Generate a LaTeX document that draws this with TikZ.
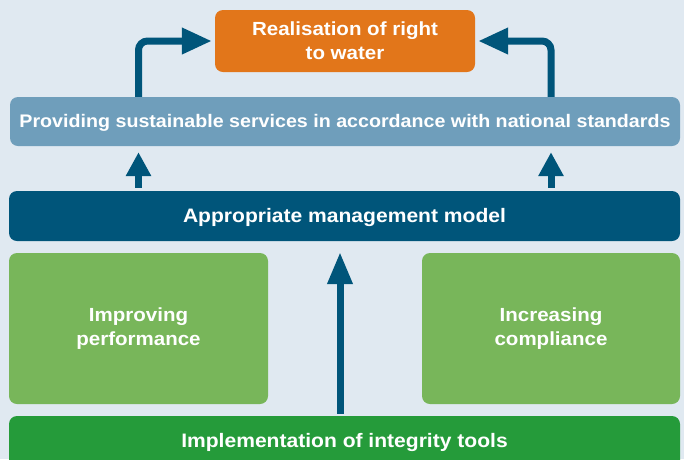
\documentclass[tikz,border=0pt]{standalone}
\usepackage{fontspec}
\setmainfont[FakeStretch=1.08]{Liberation Sans}
\usetikzlibrary{arrows.meta}
\definecolor{bgblue}{HTML}{E0E9F1}
\definecolor{goalorange}{HTML}{E2761A}
\definecolor{servblue}{HTML}{6F9EBB}
\definecolor{modelblue}{HTML}{00557A}
\definecolor{leafgreen}{HTML}{78B65A}
\definecolor{toolgreen}{HTML}{259B3A}
\begin{document}
\begin{tikzpicture}[x=1pt,y=-1pt,
  box/.style={rounded corners=8pt,inner sep=0pt,align=center,text=white,
    font=\bfseries\fontsize{19}{24}\selectfont},
  oneline/.style={text height=14pt,text depth=2pt},
  flow/.style={modelblue,line width=7pt,-{Triangle[length=30pt,width=25pt]}}]
  % page and background
  \useasboundingbox (0,0) rectangle (684,459);
  \clip (0,0) rectangle (684,459);
  \fill[bgblue] (0,0) rectangle (684,459);
  % boxes, top to bottom
  \node[box,fill=goalorange,minimum width=260pt,minimum height=62pt] (goal) at (345,41)
    {Realisation of right\\to water};
  \node[box,oneline,fill=servblue,minimum width=670pt,minimum height=49pt,
    font=\bfseries\fontsize{18.2}{24}\selectfont] (services) at (345,121.5)
    {Providing sustainable services in accordance with national standards};
  \node[box,oneline,fill=modelblue,minimum width=671pt,minimum height=50pt,
    font=\bfseries\fontsize{19.5}{24}\selectfont] (model) at (344.5,216)
    {Appropriate management model};
  \node[box,fill=leafgreen,minimum width=259pt,minimum height=151pt] (improve) at (138.5,328.5)
    {Improving\\performance};
  \node[box,fill=leafgreen,minimum width=258pt,minimum height=151pt] (comply) at (551,328.5)
    {Increasing\\compliance};
  \node[box,fill=toolgreen,minimum width=671pt,minimum height=58pt] (tools) at (344.5,445) {};
  \node[oneline,inner sep=0pt,text=white,font=\bfseries\fontsize{19.5}{24}\selectfont]
    (toolstext) at (344.5,441) {Implementation of integrity tools};
  % arrows into the goal
  \draw[flow,rounded corners=9pt,shorten >=3pt] (services.north -| improve.center) |- (goal.west);
  \draw[flow,rounded corners=9pt,shorten >=3pt] (services.north -| comply.center) |- (goal.east);
  % short arrows from model to services
  \draw[flow,-{Triangle[length=24pt,width=24pt]},shorten <=3pt,shorten >=6pt]
    (model.north -| improve.center) -- (services.south -| improve.center);
  \draw[flow,-{Triangle[length=24pt,width=24pt]},shorten <=3pt,shorten >=6pt]
    (model.north -| comply.center) -- (services.south -| comply.center);
  % long arrow from tools up to the model
  \draw[flow,-{Triangle[length=32pt,width=24pt]},shorten <=2pt,shorten >=11pt]
    (tools.north -| 340,0) -- (model.south -| 340,0);
\end{tikzpicture}
\end{document}
